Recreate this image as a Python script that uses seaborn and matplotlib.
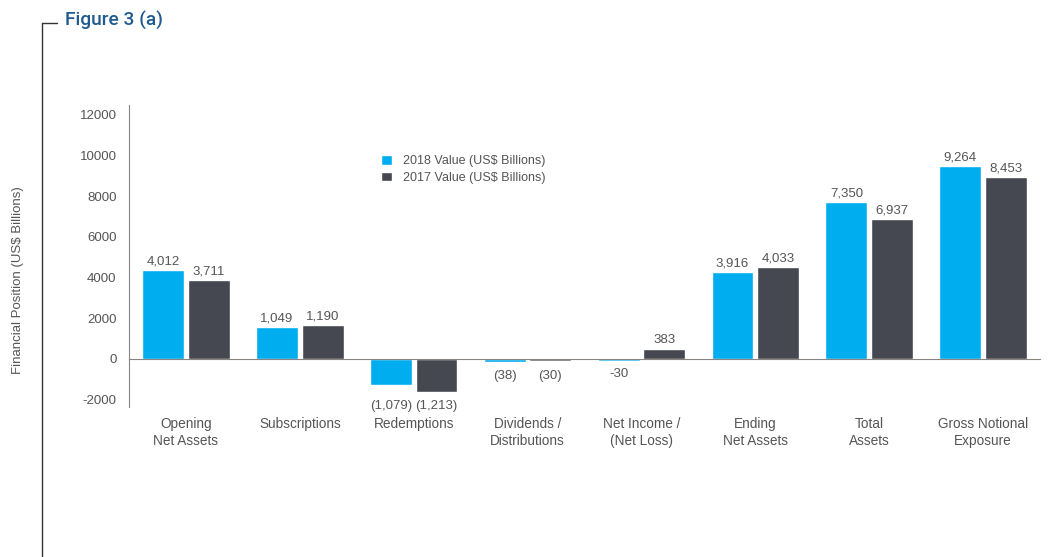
import pandas as pd
import numpy as np
import seaborn as sns
import matplotlib.pyplot as plt
from matplotlib.lines import Line2D

categories = ['Opening\nNet Assets', 'Subscriptions', 'Redemptions', 'Dividends /\nDistributions',
              'Net Income /\n(Net Loss)', 'Ending\nNet Assets', 'Total\nAssets', 'Gross Notional\nExposure']
series = ['2018 Value (US$ Billions)', '2017 Value (US$ Billions)']

# bar heights as drawn in the picture
values_2018 = [4370, 1570, -1280, -150, -80, 4280, 7720, 9480]
values_2017 = [3880, 1670, -1620, -80, 490, 4520, 6880, 8940]

# printed labels
labels_2018 = ['4,012', '1,049', '(1,079)', '(38)', '-30', '3,916', '7,350', '9,264']
labels_2017 = ['3,711', '1,190', '(1,213)', '(30)', '383', '4,033', '6,937', '8,453']

yticks = [-2000, 0, 2000, 4000, 6000, 8000, 10000, 12000]

blue = '#00aeef'
dark = '#454850'
grey = '#555555'
axis_grey = '#8a8480'

df = pd.DataFrame({
    'category': categories * 2,
    'series': [series[0]] * 8 + [series[1]] * 8,
    'value': values_2018 + values_2017,
})

sns.set_style('white')
plt.rcParams['font.family'] = ['Liberation Sans', 'DejaVu Sans']

fig = plt.figure(figsize=(10.55, 5.57), dpi=100)
ax = fig.add_axes([129 / 1055, 1 - 407 / 557, 911 / 1055, 302 / 557])

sns.barplot(data=df, x='category', y='value', hue='series', palette=[blue, dark],
            width=0.8, gap=0.08, ax=ax, errorbar=None, saturation=1)

ax.set_xlim(-0.5, 7.5)
ax.set_ylim(-2360, 12480)
ax.set_yticks(yticks)
ax.set_yticklabels([str(t) for t in yticks])
ax.set_xlabel('')
ax.set_ylabel('')

# value labels: positives above each bar, negatives level below the lower bar of the group
lowest = [min(a, b) for a, b in zip(values_2018, values_2017)]
for cont, labs in zip(ax.containers, [labels_2018, labels_2017]):
    for i, (bar, lab) in enumerate(zip(cont, labs)):
        h = bar.get_height()
        x = bar.get_x() + bar.get_width() / 2
        if h >= 0:
            ax.annotate(lab, (x, h), xytext=(0, 2), textcoords='offset points',
                        ha='center', va='bottom', fontsize=9.5, color=grey)
        else:
            ax.annotate(lab, (x, lowest[i]), xytext=(0, -10), textcoords='offset points',
                        ha='center', va='center', fontsize=9.5, color=grey)

for s in ['top', 'right']:
    ax.spines[s].set_visible(False)
ax.spines['bottom'].set_position(('data', 0))
ax.spines['bottom'].set_color(axis_grey)
ax.spines['left'].set_color(axis_grey)

ax.tick_params(axis='y', direction='out', length=8, color=axis_grey, labelsize=9.5,
               labelcolor=grey, pad=1)
ax.tick_params(axis='x', which='major', length=0, pad=42, labelsize=9.8, labelcolor=grey)
ax.set_xticks(np.arange(0.5, 7, 1), minor=True)
ax.tick_params(axis='x', which='minor', direction='in', length=6, color=axis_grey, width=1)

leg = ax.legend(loc='upper left', bbox_to_anchor=(0.277, 0.835), frameon=False,
                fontsize=9, handlelength=0.85, handleheight=0.85, handletextpad=0.9,
                labelspacing=0.35, borderpad=0, borderaxespad=0)
for t in leg.get_texts():
    t.set_color(grey)

fig.text(18 / 1055, 1 - 280 / 557, 'Financial Position (US$ Billions)', rotation=90,
         ha='center', va='center', fontsize=9.5, color=grey)

fig.text(65 / 1055, 1 - 20 / 557, 'Figure 3 (a)', ha='left', va='center',
         fontsize=13.8, color='#1f5b8e', family=['Roboto', 'Liberation Sans'], weight='medium')

fig.add_artist(Line2D([42 / 1055, 42 / 1055], [0, 1 - 23 / 557], transform=fig.transFigure,
                      color='#333333', lw=1))
fig.add_artist(Line2D([42 / 1055, 57 / 1055], [1 - 23 / 557, 1 - 23 / 557],
                      transform=fig.transFigure, color='#333333', lw=1))

fig.savefig('out.png', dpi=100)
